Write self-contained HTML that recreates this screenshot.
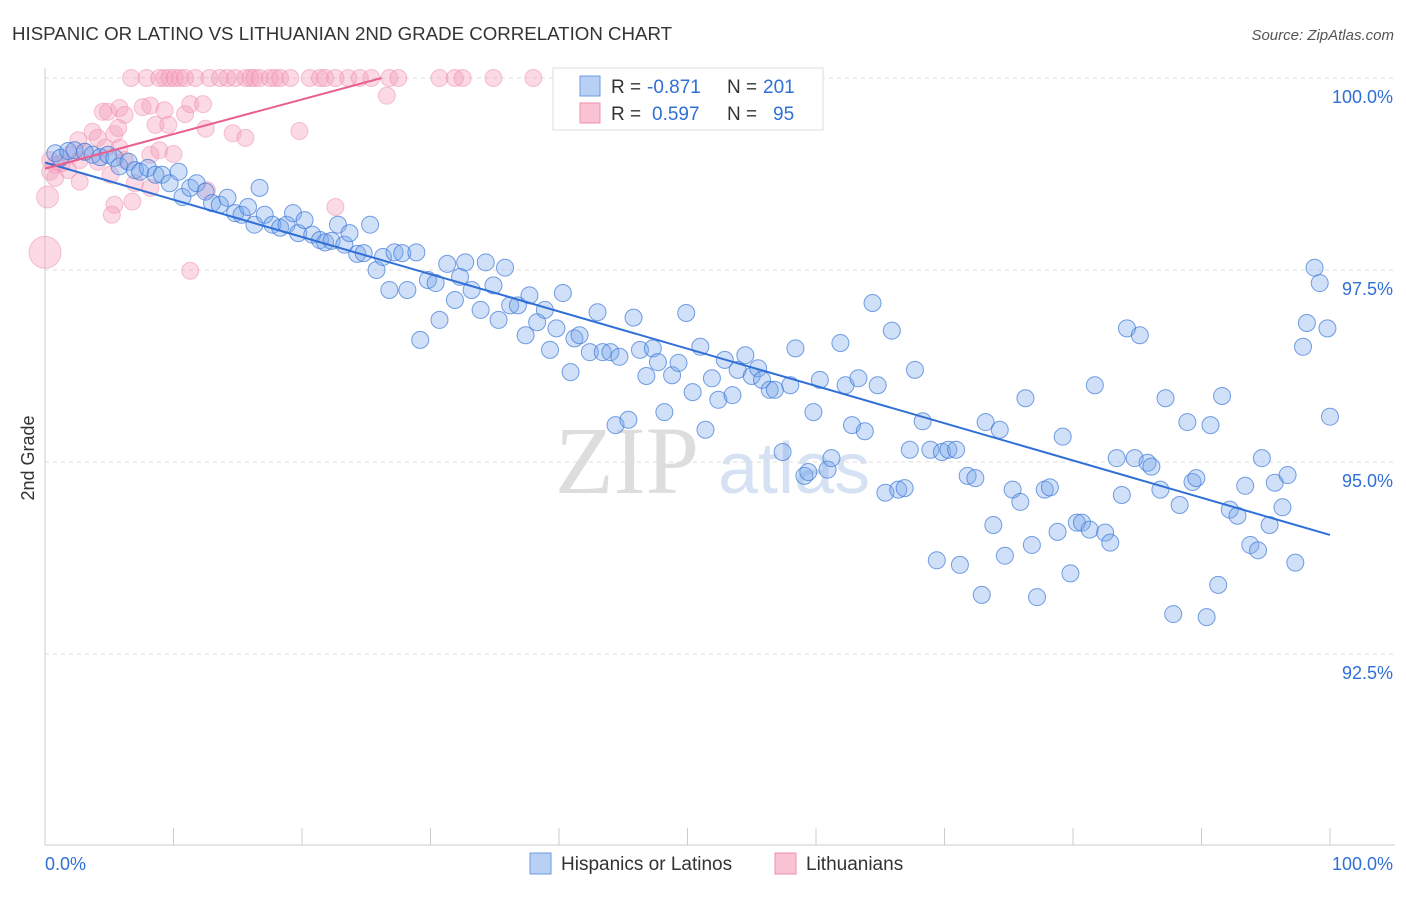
<!DOCTYPE html>
<html><head><meta charset="utf-8"><style>
body{margin:0;background:#fff;font-family:"Liberation Sans",sans-serif}
</style></head><body>
<svg id="chart" width="1406" height="892" xmlns="http://www.w3.org/2000/svg">
<text x="12" y="40" font-size="18.7" fill="#333">HISPANIC OR LATINO VS LITHUANIAN 2ND GRADE CORRELATION CHART</text>
<text x="1394" y="40" font-size="15" fill="#555" font-style="italic" text-anchor="end">Source: ZipAtlas.com</text>
<text x="34" y="458" font-size="18" fill="#333" text-anchor="middle" transform="rotate(-90 34 458)">2nd Grade</text>
<g><text x="555" y="493" font-size="96" font-family="Liberation Serif,serif" fill="#ddd">ZIP</text><text x="718" y="493" font-size="72" fill="#d6e2f3">atlas</text></g>
<g id="grid"></g><g id="pts"></g><g id="lines"></g>
<g>
<rect x="553" y="68" width="270" height="62" fill="#fff" stroke="#ddd"/>
<rect x="580" y="76" width="20" height="20" fill="#b9d0f5" stroke="#6b9be0"/>
<rect x="580" y="103" width="20" height="20" fill="#f9c3d3" stroke="#ee8fae"/>
<text x="611" y="93" font-size="19" fill="#333">R =</text>
<text x="647" y="93" font-size="19" fill="#2f6fd6">-0.871</text>
<text x="727" y="93" font-size="19" fill="#333">N =</text>
<text x="763" y="93" font-size="19" fill="#2f6fd6">201</text>
<text x="611" y="120" font-size="19" fill="#333">R =</text>
<text x="652" y="120" font-size="19" fill="#2f6fd6">0.597</text>
<text x="727" y="120" font-size="19" fill="#333">N =</text>
<text x="773" y="120" font-size="19" fill="#2f6fd6">95</text>
</g>
<g>
<rect x="530" y="853" width="21" height="21" fill="#b9d0f5" stroke="#6b9be0"/>
<text x="561" y="870" font-size="19" fill="#333">Hispanics or Latinos</text>
<rect x="775" y="853" width="21" height="21" fill="#f9c3d3" stroke="#ee8fae"/>
<text x="806" y="870" font-size="19" fill="#333">Lithuanians</text>
</g>
</svg>
<script>
const yTicks=[100,97.5,95,92.5];
const yTickLabels=["100.0%","97.5%","95.0%","92.5%"];
const xTickLabels=["0.0%","100.0%"];
const blueX=[0.8,1.2,1.8,2.3,3.1,3.7,4.3,4.9,5.4,5.8,6.5,7.0,7.4,8.0,8.6,9.1,9.7,10.4,10.7,11.3,11.8,12.5,13.0,13.6,14.2,14.8,15.3,15.8,16.3,16.7,17.1,17.7,18.3,18.8,19.3,19.7,20.2,20.8,21.4,21.8,22.3,22.8,23.3,23.7,24.3,24.8,25.3,25.8,26.3,26.8,27.2,27.8,28.2,28.9,29.2,29.8,30.4,30.7,31.3,31.9,32.3,32.7,33.2,33.9,34.3,34.9,35.3,35.8,36.2,36.8,37.4,37.7,38.3,38.9,39.3,39.8,40.3,40.9,41.2,41.6,42.4,43.0,43.4,44.0,44.4,44.7,45.4,45.8,46.3,46.8,47.3,47.7,48.2,48.8,49.3,49.9,50.4,51.0,51.4,51.9,52.4,52.9,53.5,53.9,54.5,55.0,55.5,55.8,56.4,56.8,57.4,58.0,58.4,59.1,59.4,59.8,60.3,60.9,61.2,61.9,62.3,62.8,63.3,63.8,64.4,64.8,65.4,65.9,66.4,66.9,67.3,67.7,68.3,68.9,69.4,69.8,70.3,70.9,71.2,71.8,72.4,72.9,73.2,73.8,74.3,74.7,75.3,75.9,76.3,76.8,77.2,77.8,78.2,78.8,79.2,79.8,80.3,80.7,81.3,81.7,82.5,82.9,83.4,83.8,84.2,84.8,85.2,85.8,86.1,86.8,87.2,87.8,88.3,88.9,89.3,89.6,90.4,90.7,91.3,91.6,92.2,92.8,93.4,93.8,94.4,94.7,95.3,95.7,96.3,96.7,97.3,97.9,98.2,98.8,99.2,99.8,100.0];
const blueY=[99.02,98.96,99.05,99.06,99.04,99.00,98.97,99.00,98.96,98.85,98.91,98.80,98.78,98.83,98.74,98.74,98.63,98.78,98.45,98.57,98.63,98.52,98.37,98.35,98.44,98.24,98.22,98.32,98.09,98.57,98.22,98.09,98.05,98.09,98.24,97.98,98.15,97.96,97.89,97.86,97.88,98.09,97.83,97.98,97.71,97.72,98.09,97.50,97.67,97.24,97.73,97.72,97.24,97.73,96.59,97.37,97.33,96.85,97.58,97.11,97.41,97.60,97.24,96.98,97.60,97.30,96.85,97.53,97.04,97.04,96.65,97.17,96.82,96.98,96.46,96.74,97.20,96.17,96.61,96.65,96.43,96.95,96.43,96.43,95.48,96.37,95.55,96.88,96.46,96.12,96.48,96.30,95.65,96.13,96.29,96.94,95.91,96.50,95.42,96.09,95.81,96.33,95.87,96.20,96.39,96.12,96.22,96.07,95.94,95.94,95.13,96.00,96.48,94.82,94.87,95.65,96.07,94.90,95.05,96.55,96.00,95.48,96.09,95.40,97.07,96.00,94.60,96.71,94.64,94.66,95.16,96.20,95.53,95.16,93.72,95.13,95.16,95.16,93.66,94.82,94.79,93.27,95.52,94.18,95.42,93.78,94.64,94.48,95.83,93.92,93.24,94.64,94.67,94.09,95.33,93.55,94.21,94.21,94.12,96.00,94.08,93.95,95.05,94.57,96.74,95.05,96.65,94.99,94.94,94.64,95.83,93.02,94.44,95.52,94.74,94.79,92.98,95.48,93.40,95.86,94.38,94.30,94.69,93.92,93.85,95.05,94.18,94.73,94.41,94.83,93.69,96.50,96.81,97.53,97.33,96.74,95.59];
const pinkX=[6.7,7.9,8.9,9.3,9.7,10.1,10.5,10.9,11.7,12.8,13.6,14.2,14.8,15.6,16.0,16.3,16.7,17.5,17.9,18.3,19.1,20.6,21.4,21.8,22.6,23.6,24.5,25.4,26.8,27.5,30.7,31.9,32.5,34.9,38.0,4.5,4.9,5.8,6.2,7.6,8.2,9.3,10.9,11.3,12.3,8.6,9.6,12.5,14.6,15.6,19.8,26.6,2.6,3.7,4.1,5.4,5.7,4.7,5.8,6.2,8.2,8.9,10.0,1.9,1.3,2.7,3.1,0.8,0.4,0.4,0.8,1.8,2.7,4.1,5.1,7.0,8.2,5.4,5.2,6.8,12.6,11.3,22.6,0.2,0.0];
const pinkY=[100,100,100,100,100,100,100,100,100,100,100,100,100,100,100,100,100,100,100,100,100,100,100,100,100,100,100,100,100,100,100,100,100,100,100,99.56,99.56,99.61,99.52,99.62,99.64,99.58,99.53,99.66,99.66,99.39,99.39,99.34,99.28,99.22,99.31,99.77,99.19,99.30,99.22,99.27,99.35,99.09,99.09,98.93,99.00,99.06,99.01,99.00,98.89,98.93,99.04,98.87,98.78,98.93,98.70,98.80,98.65,98.91,98.74,98.63,98.57,98.35,98.22,98.39,98.54,97.49,98.32,98.45,97.73];
const pinkR=pinkX.map((v,i)=>i===pinkX.length-1?16:(i===pinkX.length-2?11:8.5));
const blueTrend=[[0,98.9],[100,94.05]];
const pinkTrend=[[0,98.82],[26.2,100]];
const NS="http://www.w3.org/2000/svg";
const X=v=>45+v*12.85, Y=v=>78+(100-v)*76.8;
function mk(t,a,p){const e=document.createElementNS(NS,t);for(const k in a)e.setAttribute(k,a[k]);p.appendChild(e);return e;}
const grid=document.getElementById('grid');
yTicks.forEach((t,i)=>{
 const l=mk('line',{x1:45,x2:1395,y1:Y(t),y2:Y(t),stroke:'#ddd','stroke-dasharray':'4 4'},grid);
 
 
 const tx=mk('text',{x:1393,y:Y(t)+25,'font-size':18,fill:'#2f6fd6','text-anchor':'end'},grid);tx.textContent=yTickLabels[i];
 
 
});
mk('line',{x1:45,x2:45,y1:68,y2:845,stroke:'#ccc'},grid);
mk('line',{x1:45,x2:1395,y1:845,y2:845,stroke:'#ccc'},grid);
for(let i=0;i<=10;i++){mk('line',{x1:X(i*10),x2:X(i*10),y1:828,y2:845,stroke:'#ccc'},grid);}
[[0,'start',45],[100,'end',1393]].forEach((d,i)=>{const tx=mk('text',{x:d[2],y:870,'font-size':18,fill:'#2f6fd6','text-anchor':d[1]},grid);tx.textContent=xTickLabels[i];
 
 });
const pts=document.getElementById('pts');
pinkX.forEach((x,i)=>{const c=mk('circle',{cx:X(x),cy:Y(pinkY[i]),r:pinkR[i],fill:'rgba(245,160,190,0.4)',stroke:'rgba(235,130,165,0.45)','stroke-width':1},pts);
 
 });
blueX.forEach((x,i)=>{const c=mk('circle',{cx:X(x),cy:Y(blueY[i]),r:8.5,fill:'rgba(120,165,235,0.35)',stroke:'rgba(60,120,215,0.7)','stroke-width':1},pts);
 
 });
const lines=document.getElementById('lines');
const bl=mk('line',{x1:X(blueTrend[0][0]),y1:Y(blueTrend[0][1]),x2:X(blueTrend[1][0]),y2:Y(blueTrend[1][1]),stroke:'#2f6fd6','stroke-width':2},lines);


const pl=mk('line',{x1:X(pinkTrend[0][0]),y1:Y(pinkTrend[0][1]),x2:X(pinkTrend[1][0]),y2:Y(pinkTrend[1][1]),stroke:'#e8608d','stroke-width':2},lines);


</script>
</body></html>
